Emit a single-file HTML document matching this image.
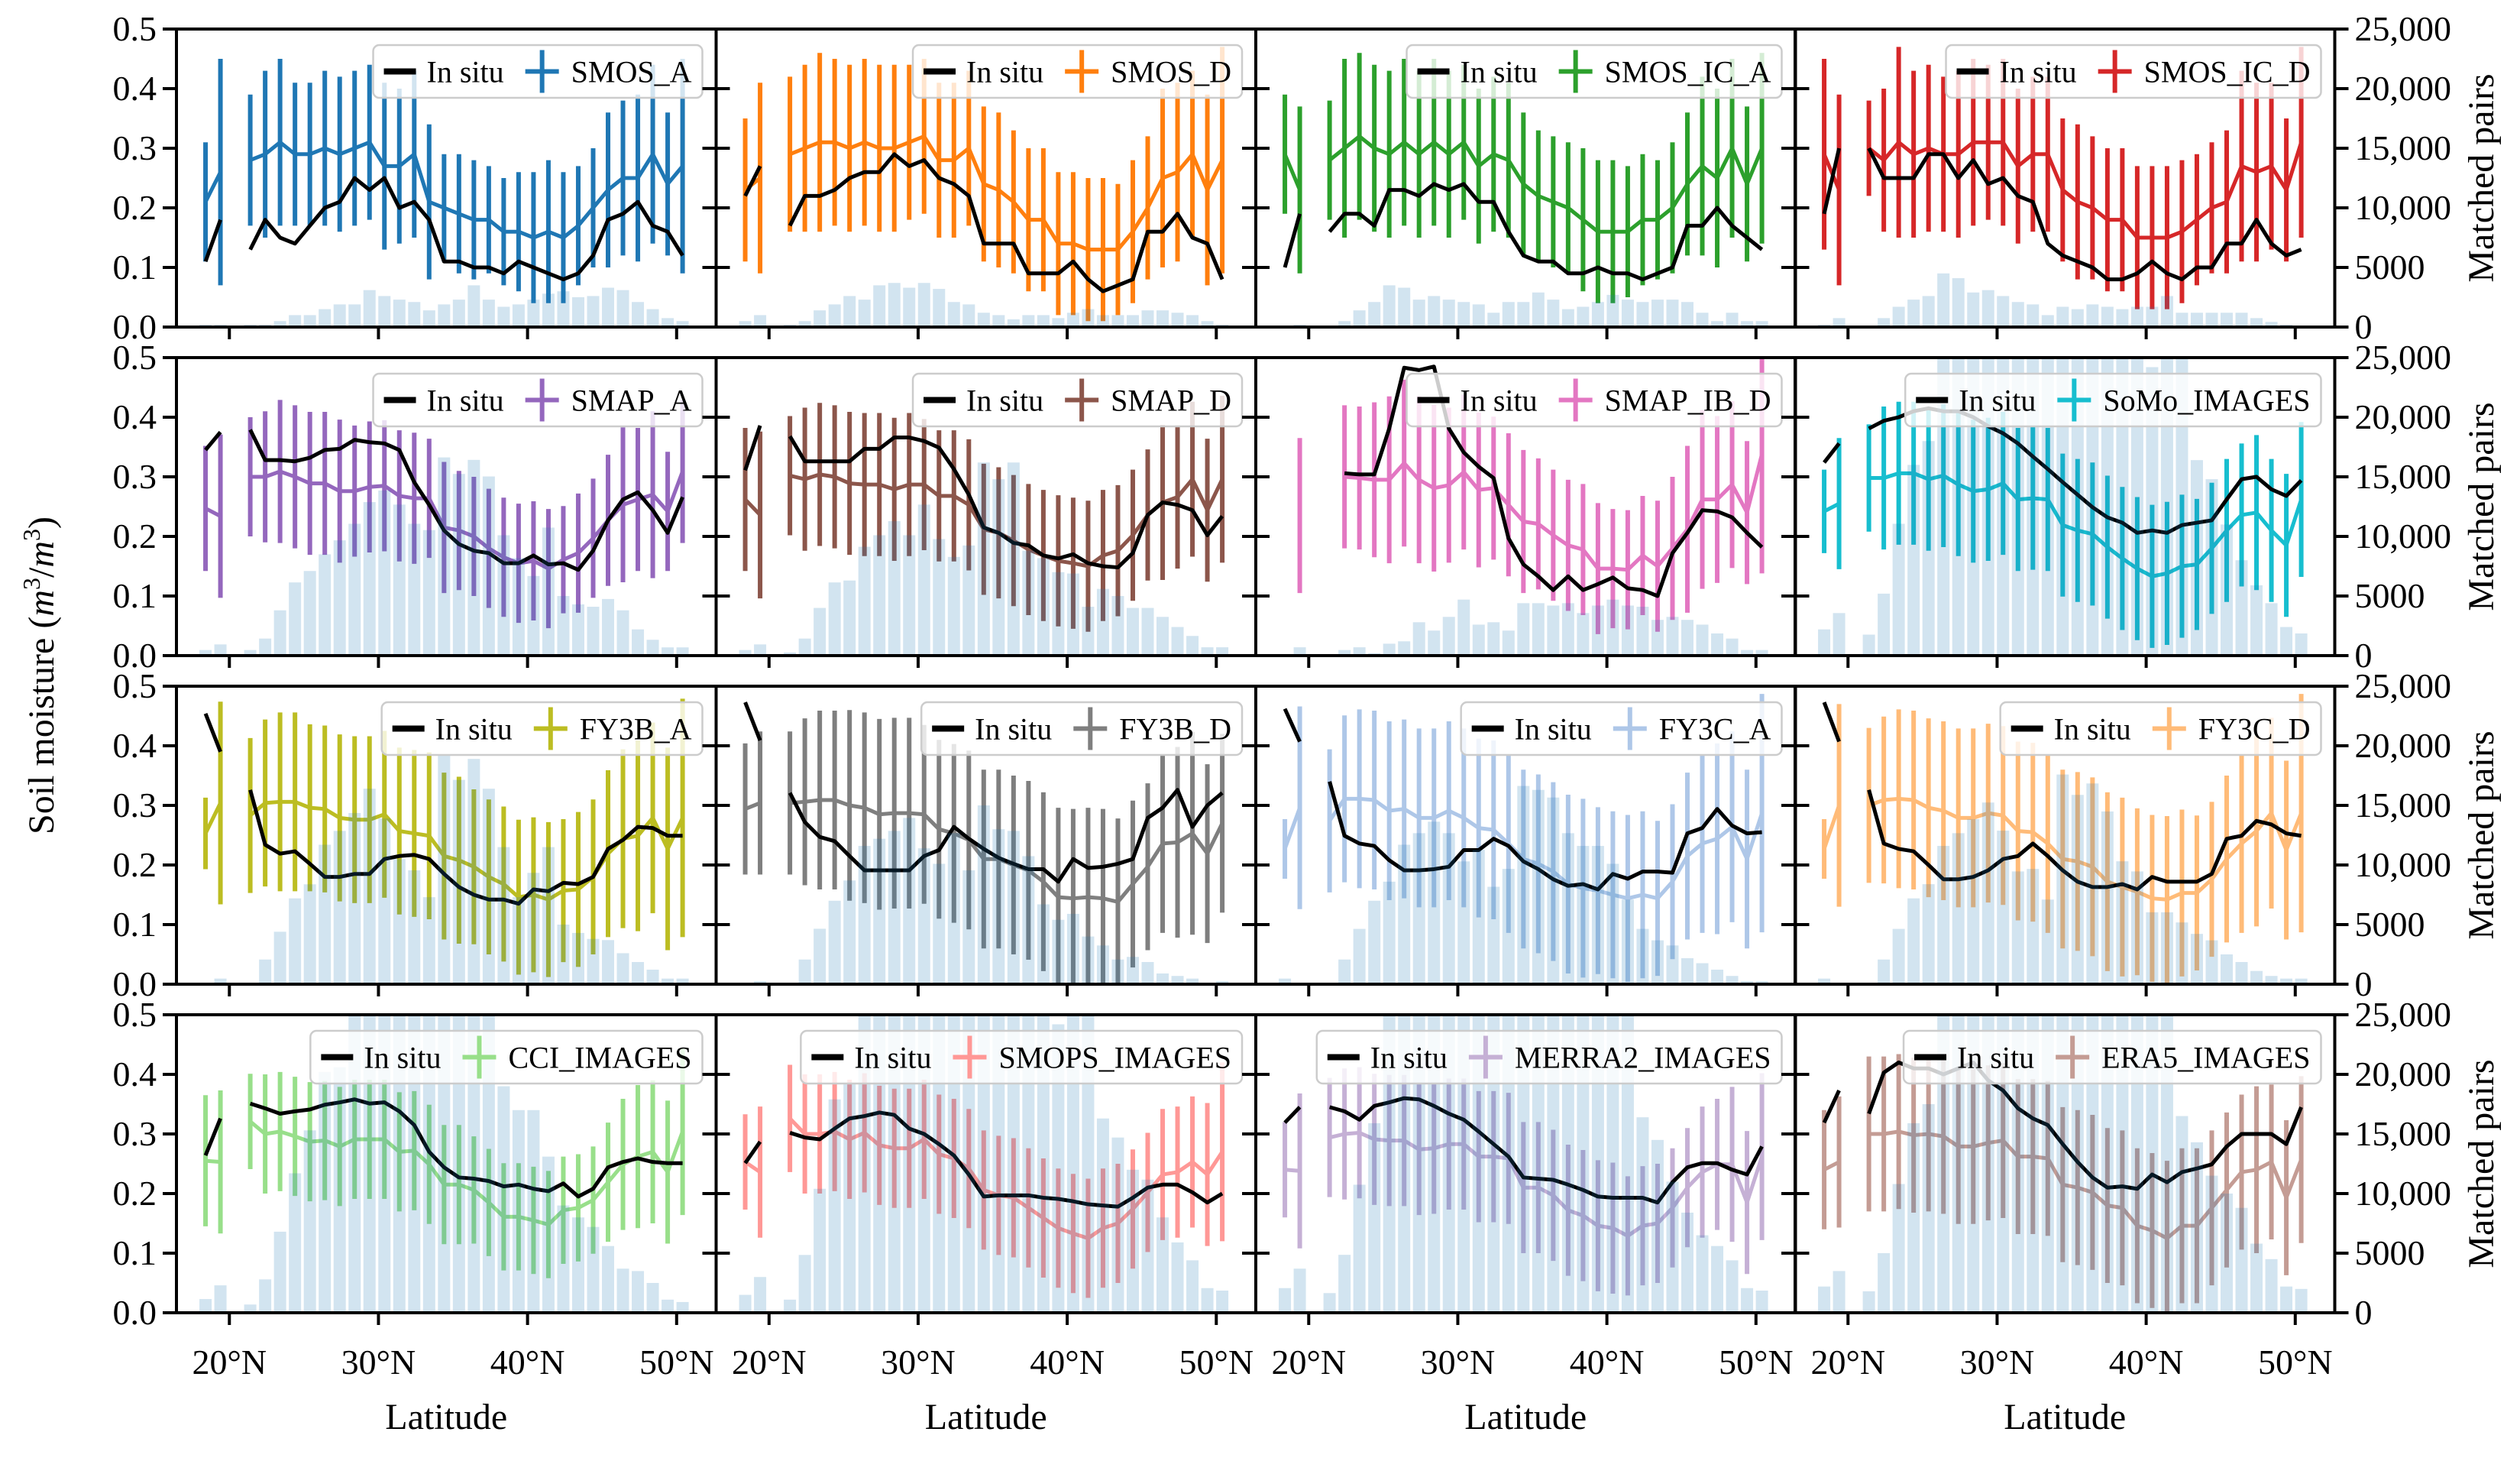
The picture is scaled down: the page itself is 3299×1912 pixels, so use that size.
<!DOCTYPE html>
<html><head><meta charset="utf-8"><title>Soil moisture vs latitude</title>
<style>
html,body{margin:0;padding:0;background:#fff;}
svg{display:block;font-family:"Liberation Serif",serif;}
</style></head>
<body>
<svg id="chart" xmlns="http://www.w3.org/2000/svg" width="3299" height="1912" viewBox="0 0 3299 1912"></svg>
<script>
const LAT = [18.4,19.4,21.4,22.4,23.4,24.4,25.4,26.4,27.4,28.4,29.4,30.4,31.4,32.4,33.4,34.4,35.4,36.4,37.4,38.4,39.4,40.4,41.4,42.4,43.4,44.4,45.4,46.4,47.4,48.4,49.4,50.4];
const NAMES = ["SMOS_A","SMOS_D","SMOS_IC_A","SMOS_IC_D","SMAP_A","SMAP_D","SMAP_IB_D","SoMo_IMAGES","FY3B_A","FY3B_D","FY3C_A","FY3C_D","CCI_IMAGES","SMOPS_IMAGES","MERRA2_IMAGES","ERA5_IMAGES"];
const Y_TICKS = [0,0.1,0.2,0.3,0.4,0.5];
const Y_TICK_LABELS = ["0.0","0.1","0.2","0.3","0.4","0.5"];
const R_TICKS = [0,5000,10000,15000,20000,25000];
const R_TICK_LABELS = ["0","5000","10,000","15,000","20,000","25,000"];
const X_TICKS = [20,30,40,50];
const X_TICK_LABELS = ["20°N","30°N","40°N","50°N"];

const ins1=[0.11,0.18,0.13,0.18,0.15,0.14,0.17,0.20,0.21,0.25,0.23,0.25,0.20,0.21,0.18,0.11,0.11,0.10,0.10,0.09,0.11,0.10,0.09,0.08,0.09,0.12,0.18,0.19,0.21,0.17,0.16,0.12];
const sat1=[0.21,0.26,0.28,0.29,0.31,0.29,0.29,0.30,0.29,0.30,0.31,0.27,0.27,0.29,0.21,0.20,0.19,0.18,0.18,0.16,0.16,0.15,0.16,0.15,0.17,0.20,0.23,0.25,0.25,0.29,0.24,0.27];
const err1=[0.10,0.19,0.11,0.14,0.14,0.12,0.12,0.13,0.13,0.13,0.13,0.14,0.13,0.14,0.13,0.09,0.10,0.10,0.09,0.09,0.10,0.11,0.12,0.11,0.10,0.10,0.13,0.13,0.14,0.15,0.12,0.18];
const pairs1=[200,200,200,200,500,1000,1000,1500,1900,1900,3100,2600,2300,2100,1400,1900,2300,3500,2300,1700,1900,2300,2800,3000,2500,2600,3300,3100,2100,1500,750,500];

const ins2=[0.22,0.27,0.17,0.22,0.22,0.23,0.25,0.26,0.26,0.29,0.27,0.28,0.25,0.24,0.22,0.14,0.14,0.14,0.09,0.09,0.09,0.11,0.08,0.06,0.07,0.08,0.16,0.16,0.19,0.15,0.14,0.08];
const sat2=[0.23,0.25,0.29,0.30,0.31,0.31,0.30,0.31,0.30,0.30,0.31,0.32,0.28,0.28,0.30,0.24,0.23,0.21,0.18,0.18,0.14,0.14,0.13,0.13,0.13,0.16,0.20,0.25,0.26,0.29,0.23,0.28];
const err2=[0.12,0.16,0.13,0.14,0.15,0.14,0.14,0.14,0.14,0.14,0.13,0.13,0.13,0.13,0.13,0.13,0.13,0.12,0.12,0.12,0.12,0.12,0.12,0.12,0.11,0.12,0.12,0.15,0.15,0.14,0.16,0.19];
const pairs2=[500,1000,200,500,1400,1900,2600,2300,3500,3700,3300,3700,3200,2100,1900,1200,1000,650,1000,1000,750,1200,1500,1000,1000,1000,1400,1400,1200,1000,500,200];

const ins3=[0.10,0.19,0.16,0.19,0.19,0.17,0.23,0.23,0.22,0.24,0.23,0.24,0.21,0.21,0.16,0.12,0.11,0.11,0.09,0.09,0.10,0.09,0.09,0.08,0.09,0.10,0.17,0.17,0.20,0.17,0.15,0.13];
const sat3=[0.29,0.23,0.28,0.30,0.32,0.30,0.29,0.31,0.29,0.31,0.29,0.31,0.27,0.29,0.28,0.24,0.22,0.21,0.20,0.18,0.16,0.16,0.16,0.18,0.18,0.20,0.24,0.27,0.25,0.30,0.24,0.30];
const err3=[0.10,0.14,0.10,0.15,0.14,0.14,0.14,0.14,0.14,0.14,0.14,0.13,0.13,0.13,0.13,0.12,0.11,0.11,0.11,0.12,0.12,0.12,0.11,0.11,0.10,0.11,0.12,0.15,0.15,0.15,0.13,0.16];
const pairs3=[0,200,0,500,1400,2100,3500,3300,2300,2600,2300,2100,1900,1200,2100,2100,2900,2300,1500,1700,2100,2700,2300,2100,2300,2300,2100,1200,500,1200,500,500];

const ins4=[0.19,0.30,0.30,0.25,0.25,0.25,0.29,0.29,0.25,0.28,0.24,0.25,0.22,0.21,0.14,0.12,0.11,0.10,0.08,0.08,0.09,0.11,0.09,0.08,0.10,0.10,0.14,0.14,0.18,0.14,0.12,0.13];
const sat4=[0.29,0.23,0.30,0.28,0.31,0.29,0.30,0.29,0.29,0.31,0.31,0.31,0.27,0.29,0.29,0.23,0.21,0.20,0.18,0.18,0.15,0.15,0.15,0.16,0.18,0.20,0.21,0.27,0.26,0.27,0.23,0.31];
const err4=[0.16,0.16,0.08,0.12,0.16,0.14,0.14,0.13,0.14,0.14,0.13,0.14,0.13,0.13,0.13,0.12,0.13,0.12,0.12,0.12,0.12,0.12,0.12,0.12,0.11,0.11,0.12,0.16,0.15,0.14,0.12,0.16];
const pairs4=[200,750,0,750,1700,2300,2600,4500,4100,2900,3100,2600,2100,1900,1000,1700,1500,1900,1700,1500,1700,1700,2600,1200,1200,1200,1200,1200,750,430,200,0];

const ins5=[0.345,0.375,0.379,0.328,0.328,0.326,0.332,0.345,0.347,0.362,0.358,0.356,0.345,0.291,0.253,0.21,0.187,0.176,0.172,0.155,0.155,0.168,0.153,0.155,0.144,0.176,0.227,0.262,0.274,0.244,0.206,0.266];
const sat5=[0.247,0.234,0.30,0.30,0.309,0.30,0.289,0.289,0.276,0.276,0.283,0.285,0.268,0.264,0.264,0.215,0.21,0.20,0.18,0.165,0.155,0.159,0.146,0.161,0.172,0.197,0.227,0.253,0.262,0.27,0.242,0.309];
const err5=[0.105,0.137,0.10,0.11,0.12,0.12,0.12,0.12,0.12,0.11,0.11,0.11,0.11,0.11,0.10,0.11,0.10,0.10,0.10,0.10,0.10,0.10,0.10,0.09,0.10,0.10,0.11,0.13,0.12,0.14,0.10,0.12];
const pairs5=[470,940,470,1430,3800,6140,7100,8500,9670,11060,12880,13850,12670,11060,10530,16630,15240,16420,15030,10100,8180,6680,10740,5000,4300,4100,4750,3800,2200,1330,690,690];

const ins6=[0.311,0.386,0.368,0.326,0.326,0.326,0.326,0.347,0.347,0.366,0.366,0.36,0.349,0.313,0.27,0.215,0.206,0.189,0.185,0.168,0.163,0.17,0.155,0.15,0.148,0.172,0.236,0.257,0.253,0.244,0.202,0.234];
const sat6=[0.262,0.236,0.302,0.296,0.304,0.30,0.289,0.287,0.287,0.279,0.287,0.287,0.268,0.268,0.253,0.212,0.206,0.193,0.178,0.168,0.159,0.155,0.15,0.168,0.176,0.202,0.236,0.257,0.266,0.296,0.244,0.296];
const err6=[0.12,0.14,0.10,0.12,0.12,0.12,0.12,0.12,0.12,0.12,0.12,0.11,0.11,0.11,0.11,0.11,0.11,0.11,0.11,0.11,0.11,0.11,0.11,0.11,0.11,0.11,0.11,0.13,0.12,0.13,0.12,0.14];
const pairs6=[470,940,260,1430,4000,6140,6300,9130,10100,11280,10100,12670,9780,8280,9240,16200,14800,16200,8800,8180,7000,6890,4100,5600,5000,4000,4000,3250,2400,1650,700,700];

const ins7=[null,null,null,0.306,0.304,0.304,0.381,0.483,0.479,0.485,0.381,0.341,0.317,0.298,0.197,0.153,0.133,0.11,0.133,0.11,0.12,0.131,0.113,0.11,0.10,0.172,0.206,0.244,0.242,0.232,0.206,0.182];
const sat7=[null,0.235,null,0.30,0.298,0.295,0.295,0.323,0.295,0.281,0.286,0.308,0.278,0.281,0.253,0.225,0.221,0.202,0.185,0.178,0.146,0.146,0.144,0.168,0.15,0.18,0.212,0.262,0.262,0.287,0.24,0.338];
const err7=[0.13,0.13,0.13,0.12,0.12,0.13,0.14,0.14,0.14,0.14,0.13,0.13,0.13,0.12,0.12,0.12,0.11,0.11,0.11,0.11,0.11,0.10,0.10,0.10,0.11,0.12,0.14,0.15,0.14,0.14,0.12,0.20];
const pairs7=[0,700,0,470,700,200,1000,1200,2800,2100,3250,4700,2600,2800,2100,4400,4400,4200,4400,3570,4200,4700,4200,4100,3000,3250,3000,2600,1860,1430,470,470];

const ins8=[0.324,0.356,0.381,0.394,0.40,0.41,0.415,0.41,0.41,0.40,0.385,0.373,0.356,0.334,0.313,0.291,0.27,0.249,0.232,0.223,0.206,0.21,0.206,0.219,0.223,0.227,0.262,0.296,0.30,0.279,0.268,0.294];
const sat8=[0.242,0.255,0.298,0.298,0.306,0.306,0.296,0.302,0.287,0.276,0.279,0.289,0.262,0.264,0.262,0.219,0.21,0.204,0.182,0.163,0.146,0.133,0.138,0.15,0.153,0.18,0.21,0.236,0.24,0.21,0.185,0.262];
const err8=[0.07,0.11,0.09,0.12,0.12,0.12,0.12,0.12,0.12,0.12,0.12,0.12,0.12,0.12,0.12,0.12,0.12,0.12,0.12,0.12,0.12,0.12,0.12,0.12,0.11,0.11,0.12,0.12,0.13,0.12,0.12,0.13];
const pairs8=[2200,3570,1760,5200,11060,16000,18000,26000,26000,26000,26000,26000,26000,26000,26000,26000,26000,26000,26000,26000,26000,24200,26000,26000,16400,14800,11000,8000,5900,4400,2400,1860];

const ins9=[0.454,0.39,0.326,0.234,0.219,0.223,0.202,0.18,0.18,0.185,0.185,0.21,0.215,0.217,0.21,0.185,0.163,0.15,0.142,0.142,0.135,0.159,0.156,0.17,0.168,0.18,0.227,0.242,0.264,0.262,0.249,0.249];
const sat9=[0.253,0.304,0.283,0.304,0.306,0.306,0.296,0.294,0.279,0.276,0.276,0.285,0.257,0.253,0.249,0.215,0.208,0.197,0.18,0.168,0.146,0.15,0.142,0.157,0.159,0.18,0.219,0.244,0.249,0.279,0.227,0.279];
const err9=[0.06,0.17,0.13,0.14,0.15,0.15,0.14,0.14,0.14,0.14,0.14,0.14,0.14,0.14,0.14,0.14,0.14,0.13,0.13,0.13,0.13,0.13,0.13,0.12,0.13,0.13,0.14,0.15,0.16,0.16,0.17,0.20];
const pairs9=[0,470,0,2070,4400,7200,8380,11700,12860,14360,16400,13900,10500,9550,7300,19200,17140,18900,16400,11500,7300,9340,11500,5000,4300,3800,3700,2600,1860,1220,470,470];

const ins10=[0.473,0.409,0.321,0.272,0.247,0.24,0.215,0.191,0.191,0.191,0.191,0.215,0.225,0.264,0.244,0.227,0.212,0.202,0.193,0.193,0.172,0.21,0.195,0.197,0.202,0.21,0.279,0.296,0.326,0.264,0.30,0.321];
const sat10=[0.294,0.304,0.304,0.306,0.309,0.309,0.30,0.296,0.285,0.287,0.287,0.285,0.26,0.253,0.242,0.21,0.21,0.20,0.191,0.172,0.146,0.144,0.146,0.144,0.138,0.168,0.197,0.236,0.238,0.253,0.219,0.27];
const err10=[0.11,0.12,0.12,0.14,0.15,0.15,0.16,0.16,0.16,0.16,0.16,0.15,0.15,0.15,0.15,0.15,0.15,0.15,0.15,0.15,0.15,0.15,0.15,0.15,0.14,0.14,0.14,0.15,0.16,0.17,0.15,0.15];
const pairs10=[0,260,0,2070,4650,7000,8700,11600,12200,12860,13950,11400,10100,12670,9550,15000,13000,12860,10740,6700,5400,5900,4000,3250,2070,2290,1860,900,690,470,0,260];

const ins11=[0.462,0.407,0.34,0.249,0.236,0.232,0.208,0.191,0.191,0.193,0.197,0.225,0.225,0.244,0.232,0.206,0.193,0.176,0.165,0.168,0.159,0.185,0.177,0.189,0.189,0.187,0.253,0.262,0.294,0.266,0.253,0.255];
const sat11=[0.227,0.296,0.274,0.311,0.311,0.309,0.291,0.294,0.279,0.279,0.291,0.279,0.262,0.259,0.236,0.21,0.202,0.189,0.168,0.161,0.157,0.15,0.144,0.15,0.144,0.172,0.215,0.236,0.244,0.264,0.21,0.287];
const err11=[0.05,0.17,0.12,0.14,0.15,0.15,0.15,0.15,0.15,0.15,0.15,0.15,0.15,0.15,0.15,0.15,0.15,0.15,0.15,0.15,0.14,0.14,0.14,0.14,0.13,0.13,0.14,0.15,0.16,0.16,0.15,0.20];
const pairs11=[470,0,0,2070,4640,7000,8600,11700,12670,13630,12670,10300,11280,8170,9670,16630,16300,15660,12670,11600,11600,10100,7100,4640,3680,3250,2180,1760,1220,690,260,260];

const ins12=[0.473,0.407,0.326,0.236,0.227,0.223,0.20,0.176,0.176,0.18,0.191,0.21,0.215,0.236,0.215,0.191,0.172,0.163,0.163,0.168,0.159,0.18,0.172,0.172,0.172,0.185,0.244,0.249,0.274,0.268,0.253,0.249];
const sat12=[0.227,0.30,0.30,0.309,0.311,0.309,0.296,0.291,0.279,0.279,0.287,0.283,0.257,0.255,0.236,0.21,0.206,0.197,0.172,0.163,0.155,0.144,0.142,0.153,0.153,0.176,0.21,0.236,0.257,0.287,0.225,0.287];
const err12=[0.05,0.17,0.13,0.14,0.15,0.15,0.15,0.15,0.15,0.15,0.15,0.15,0.15,0.15,0.15,0.15,0.15,0.15,0.15,0.15,0.14,0.14,0.14,0.14,0.13,0.13,0.14,0.15,0.16,0.16,0.15,0.20];
const pairs12=[470,0,0,2070,4640,7200,8390,11600,12670,13850,15240,12880,9460,9670,7100,17590,15880,16840,14490,10310,9460,6030,6030,5180,4220,3680,2500,1860,1110,690,470,470];

const ins13=[0.264,0.326,0.351,0.343,0.334,0.338,0.341,0.349,0.353,0.358,0.351,0.353,0.338,0.315,0.27,0.244,0.227,0.225,0.221,0.212,0.215,0.208,0.204,0.217,0.195,0.208,0.244,0.253,0.259,0.253,0.251,0.251];
const sat13=[0.255,0.253,0.321,0.30,0.304,0.296,0.287,0.289,0.279,0.291,0.291,0.291,0.27,0.272,0.249,0.215,0.215,0.206,0.185,0.161,0.161,0.155,0.148,0.172,0.176,0.189,0.219,0.249,0.262,0.27,0.236,0.304];
const err13=[0.11,0.12,0.08,0.10,0.10,0.10,0.10,0.10,0.10,0.10,0.10,0.10,0.10,0.10,0.10,0.10,0.10,0.09,0.09,0.09,0.09,0.09,0.09,0.09,0.09,0.09,0.10,0.11,0.12,0.12,0.12,0.14];
const pairs13=[1150,2300,690,2800,6800,11700,15300,20200,20600,26000,26000,26000,26000,26000,26000,26000,26000,26000,26000,19000,17000,17000,13100,9000,8000,7200,5600,3700,3500,2500,1100,900];

const ins14=[0.251,0.287,0.302,0.294,0.291,0.309,0.326,0.33,0.336,0.332,0.309,0.30,0.283,0.264,0.232,0.195,0.197,0.197,0.197,0.193,0.191,0.187,0.182,0.18,0.178,0.193,0.21,0.215,0.215,0.202,0.185,0.20];
const sat14=[0.253,0.236,0.326,0.30,0.30,0.304,0.291,0.302,0.281,0.276,0.276,0.291,0.266,0.259,0.242,0.206,0.197,0.193,0.176,0.159,0.142,0.133,0.125,0.142,0.15,0.174,0.202,0.232,0.236,0.253,0.232,0.27];
const err14=[0.08,0.11,0.09,0.10,0.10,0.10,0.10,0.10,0.10,0.10,0.10,0.10,0.10,0.10,0.10,0.10,0.10,0.10,0.10,0.10,0.10,0.10,0.10,0.10,0.10,0.10,0.10,0.11,0.11,0.11,0.12,0.15];
const pairs14=[1500,3000,1100,4850,10400,17900,19300,26000,26000,26000,26000,26000,26000,26000,26000,26000,26000,26000,26000,26000,24200,26000,26000,16300,14700,12000,11170,8000,5900,4400,2070,1860];

const ins15=[0.319,0.345,0.345,0.338,0.324,0.347,0.353,0.36,0.358,0.347,0.334,0.324,0.304,0.283,0.262,0.227,0.225,0.223,0.215,0.206,0.195,0.193,0.193,0.193,0.185,0.219,0.244,0.251,0.251,0.24,0.232,0.279];
const sat15=[0.24,0.238,0.294,0.30,0.302,0.291,0.289,0.289,0.274,0.276,0.283,0.283,0.262,0.262,0.259,0.21,0.21,0.197,0.172,0.163,0.146,0.142,0.129,0.146,0.15,0.176,0.21,0.236,0.249,0.249,0.185,0.262];
const err15=[0.08,0.13,0.10,0.11,0.11,0.11,0.11,0.11,0.11,0.11,0.11,0.11,0.11,0.11,0.11,0.11,0.11,0.11,0.11,0.11,0.11,0.11,0.10,0.10,0.10,0.10,0.10,0.11,0.11,0.13,0.12,0.14];
const pairs15=[2070,3700,1650,4860,10740,15900,26000,26000,26000,26000,26000,26000,26000,26000,26000,26000,26000,26000,26000,26000,26000,26000,26000,16400,14500,11000,8400,6500,5600,4400,2070,1860];

const ins16=[0.319,0.373,0.334,0.403,0.42,0.41,0.41,0.40,0.41,0.42,0.39,0.373,0.343,0.326,0.315,0.283,0.253,0.227,0.21,0.212,0.208,0.232,0.219,0.236,0.242,0.249,0.279,0.30,0.30,0.30,0.283,0.345];
const sat16=[0.24,0.253,0.30,0.30,0.304,0.298,0.30,0.296,0.279,0.279,0.285,0.289,0.262,0.262,0.259,0.215,0.21,0.202,0.18,0.176,0.146,0.138,0.125,0.146,0.146,0.176,0.206,0.236,0.24,0.253,0.193,0.257];
const err16=[0.10,0.11,0.13,0.13,0.13,0.13,0.13,0.13,0.13,0.13,0.13,0.13,0.13,0.13,0.13,0.13,0.13,0.13,0.13,0.13,0.13,0.13,0.13,0.13,0.13,0.13,0.13,0.13,0.14,0.13,0.13,0.14];
const pairs16=[2200,3500,1800,5000,10800,15900,17500,26000,26000,26000,26000,26000,26000,26000,26000,26000,26000,26000,26000,26000,26000,26000,26000,16500,14300,11500,10000,8800,5800,4500,2200,2000];

const INS=[ins1,ins2,ins3,ins4,ins5,ins6,ins7,ins8,ins9,ins10,ins11,ins12,ins13,ins14,ins15,ins16];
const SAT=[sat1,sat2,sat3,sat4,sat5,sat6,sat7,sat8,sat9,sat10,sat11,sat12,sat13,sat14,sat15,sat16];
const ERR=[err1,err2,err3,err4,err5,err6,err7,err8,err9,err10,err11,err12,err13,err14,err15,err16];
const PAIRS=[pairs1,pairs2,pairs3,pairs4,pairs5,pairs6,pairs7,pairs8,pairs9,pairs10,pairs11,pairs12,pairs13,pairs14,pairs15,pairs16];

const COLORS=["#1f77b4","#ff7f0e","#2ca02c","#d62728","#9467bd","#8c564b","#e377c2","#17becf","#bcbd22","#7f7f7f","#aec7e8","#ffbb78","#98df8a","#ff9896","#c5b0d5","#c49c94"];

const NS="http://www.w3.org/2000/svg";
const svg=document.getElementById("chart");
const COL_X=[231,937.5,1644,2350], ROW_Y=[38,468,898,1328], PW=706.5, PH=390;
const XMIN=16.45, XMAX=52.65;
function el(tag,attrs,parent){const e=document.createElementNS(NS,tag);for(const k in attrs)e.setAttribute(k,attrs[k]);(parent||svg).appendChild(e);return e;}

const defs=el("defs",{});
for(let p=0;p<16;p++){
  const row=Math.floor(p/4), col=p%4;
  const L=COL_X[col], T=ROW_Y[row];
  const xs=v=>L+(v-XMIN)/(XMAX-XMIN)*PW;
  const yl=v=>T+PH-v/0.5*PH;
  const yr=v=>T+PH-Math.min(v,25500)/25000*PH;
  const cp=el("clipPath",{id:"clip"+p},defs);
  el("rect",{x:L,y:T,width:PW,height:PH},cp);
  const g=el("g",{"clip-path":"url(#clip"+p+")"});
  
  
  const color=COLORS[p];
  for(let i=0;i<LAT.length;i++){
    const m=SAT[p][i]; if(m===null) continue;
    const e=ERR[p][i];
    const ln=el("line",{x1:xs(LAT[i]),x2:xs(LAT[i]),y1:yl(m-e),y2:yl(m+e),stroke:color,"stroke-width":6},g);
    
    
  }
  function drawLine(arr,stroke,w,name){
    let seg=[];
    const segs=[];
    for(let i=0;i<LAT.length;i++){
      if(arr[i]===null){if(seg.length)segs.push(seg);seg=[];continue;}
      if(seg.length && LAT[i]-LAT[i-1]>1.5){segs.push(seg);seg=[];}
      seg.push([xs(LAT[i]),yl(arr[i])]);
    }
    if(seg.length)segs.push(seg);
    segs.forEach(s=>{
      const pl=el("polyline",{points:s.map(q=>q.join(",")).join(" "),fill:"none",stroke:stroke,"stroke-width":w,"stroke-linejoin":"round"},g);
      
      
    });
  }
  drawLine(SAT[p],color,5,'satellite-mean-line');
  drawLine(INS[p],"#000",5,'in-situ-line');
  for(let i=0;i<LAT.length;i++){
    const v=PAIRS[p][i]; if(!v) continue;
    const bw=0.82/(XMAX-XMIN)*PW;
    const r=el("rect",{x:xs(LAT[i])-bw/2,y:yr(v),width:bw,height:T+PH-yr(v),fill:"#1f77b4","fill-opacity":0.2},g);
    
    
  }
  const fr=el("rect",{x:L,y:T,width:PW,height:PH,fill:"none",stroke:"#000","stroke-width":4});
  
  
  Y_TICKS.forEach((v,k)=>{
    el("line",{x1:L-18,x2:L,y1:yl(v),y2:yl(v),stroke:"#000","stroke-width":4});
    el("line",{x1:L+PW,x2:L+PW+18,y1:yr(R_TICKS[k]),y2:yr(R_TICKS[k]),stroke:"#000","stroke-width":4});
    if(col===0){
      const t=el("text",{x:L-26,y:yl(v)+15,"font-size":46,"text-anchor":"end"});t.textContent=Y_TICK_LABELS[k];
      
      
    }
    if(col===3){
      const t=el("text",{x:L+PW+26,y:yr(R_TICKS[k])+15,"font-size":46});t.textContent=R_TICK_LABELS[k];
      
      
    }
  });
  X_TICKS.forEach((v,k)=>{
    el("line",{x1:xs(v),x2:xs(v),y1:T+PH,y2:T+PH+16,stroke:"#000","stroke-width":4});
    if(row===3){
      const t=el("text",{x:xs(v),y:T+PH+80,"font-size":46,"text-anchor":"middle"});t.textContent=X_TICK_LABELS[k];
      
      
    }
  });
  if(row===3){
    const t=el("text",{x:L+PW/2,y:1870,"font-size":48,"text-anchor":"middle"});t.textContent="Latitude";
    
    
  }
  if(col===3){
    const cy=T+PH/2;
    const t=el("text",{x:3264,y:cy,"font-size":48,"text-anchor":"middle",transform:"rotate(-90 3264 "+cy+")"});t.textContent="Matched pairs";
    
    
  }
  const lg=el("g",{});
  
  
  const box=el("rect",{y:T+21,height:69,rx:8,fill:"#fff","fill-opacity":0.8,stroke:"#cccccc","stroke-width":2.5},lg);
  const cy=T+21+34.5;
  const m1=el("line",{y1:cy,y2:cy,stroke:"#000","stroke-width":8},lg);
  const t1=el("text",{y:cy+14,"font-size":40},lg);t1.textContent="In situ";
  
  
  const m2h=el("line",{y1:cy,y2:cy,stroke:color,"stroke-width":6},lg);
  const m2v=el("line",{y1:cy-28,y2:cy+28,stroke:color,"stroke-width":6},lg);
  const t2=el("text",{y:cy+14,"font-size":40},lg);t2.textContent=NAMES[p];
  
  
  const w1=t1.getComputedTextLength(), w2=t2.getComputedTextLength();
  const W=14+42+14+w1+28+44+16+w2+14;
  const x0=L+PW-18-W;
  box.setAttribute("x",x0); box.setAttribute("width",W);
  m1.setAttribute("x1",x0+14); m1.setAttribute("x2",x0+56);
  t1.setAttribute("x",x0+70);
  const mx=x0+70+w1+28;
  m2h.setAttribute("x1",mx); m2h.setAttribute("x2",mx+44);
  m2v.setAttribute("x1",mx+22); m2v.setAttribute("x2",mx+22);
  t2.setAttribute("x",mx+60);
}
const yt=el("text",{x:70,y:884,"font-size":48,"text-anchor":"middle",transform:"rotate(-90 70 884)"});


yt.innerHTML='Soil moisture (<tspan font-style="italic">m</tspan><tspan baseline-shift="super" font-size="32">3</tspan>/<tspan font-style="italic">m</tspan><tspan baseline-shift="super" font-size="32">3</tspan>)';
</script>
</body></html>
